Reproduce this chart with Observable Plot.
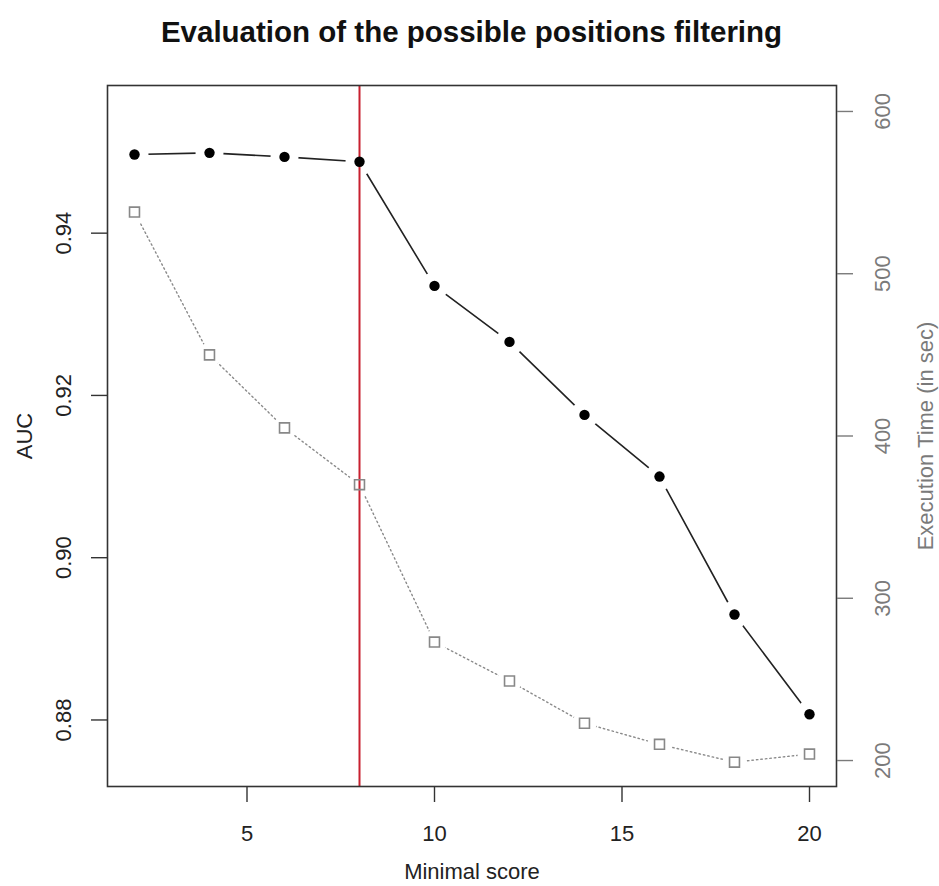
<!DOCTYPE html>
<html>
<head>
<meta charset="utf-8">
<script src="https://cdn.jsdelivr.net/npm/d3@7"></script>
<script src="https://cdn.jsdelivr.net/npm/@observablehq/plot@0.6"></script>
<style>
  html, body { margin: 0; padding: 0; background: #fff; }
  #wrap { width: 939px; height: 886px; position: relative; font-family: "Liberation Sans", Arial, Helvetica, sans-serif; }
  #title { height: 60px; box-sizing: border-box; padding-top: 17px; text-align: center; font-weight: bold; font-size: 29.5px; line-height: 29px; color: #111; padding-left: 4px; white-space: nowrap; }
</style>
</head>
<body>
<div id="wrap">
  <div id="title">Evaluation of the possible positions filtering</div>
  <div id="chart"></div>
</div>
<script>
// ---- data ----
const minimalScore = [2, 4, 6, 8, 10, 12, 14, 16, 18, 20];
const auc = [0.9497, 0.9499, 0.9494, 0.9488, 0.9335, 0.9266, 0.9176, 0.9100, 0.8930, 0.8807];
const execTime = [538, 450, 405, 370, 273, 249, 223, 210, 199, 204];
const xTicks = [5, 10, 15, 20];
const aucTicks = [0.88, 0.90, 0.92, 0.94];
const timeTicks = [200, 300, 400, 500, 600];
const threshold = [8];

// ---- scales ----
const xDomain = [1.28, 20.72];
const aucDomain = [0.8718, 0.9582];
const timeDomain = [184, 616];
const toLeft = t => aucDomain[0] + (t - timeDomain[0]) * (aucDomain[1] - aucDomain[0]) / (timeDomain[1] - timeDomain[0]);

const rows = minimalScore.map((s, i) => ({score: s, auc: auc[i], time: execTime[i]}));

const gray = "#7a7a7a";
const fs = 22;

const chart = Plot.plot({
  width: 939,
  height: 826,
  marginTop: 25,
  marginBottom: 100,
  marginLeft: 107,
  marginRight: 103,
  style: {fontFamily: '"Liberation Sans", Arial, Helvetica, sans-serif', background: "#fff", overflow: "visible"},
  x: {domain: xDomain, axis: null},
  y: {domain: aucDomain, axis: null},
  marks: [
    // execution time (right axis), dotted gray
    Plot.line(rows, {x: "score", y: d => toLeft(d.time), stroke: "#8a8a8a", strokeWidth: 1.4, strokeDasharray: "1.5,3"}),
    // AUC solid line
    Plot.line(rows, {x: "score", y: "auc", stroke: "#222", strokeWidth: 1.6}),
    // gaps (type = "b")
    Plot.dot(rows, {x: "score", y: d => toLeft(d.time), r: 12, fill: "white"}),
    Plot.dot(rows, {x: "score", y: "auc", r: 14, fill: "white"}),
    // threshold line
    Plot.ruleX(threshold, {stroke: "#c8202f", strokeWidth: 2}),
    // points
    Plot.dot(rows, {x: "score", y: d => toLeft(d.time), symbol: "square", r: 5.6, stroke: "#888", strokeWidth: 1.6, fill: "none"}),
    Plot.dot(rows, {x: "score", y: "auc", r: 5.2, fill: "#000"}),
    // frame
    Plot.frame({stroke: "#333", strokeWidth: 1.6}),
    // axes ticks
    Plot.axisX({ticks: xTicks, tickSize: 16, stroke: "#333", strokeWidth: 1.4, tickFormat: () => "", label: null}),
    Plot.axisY({anchor: "left", ticks: aucTicks, tickSize: 16, stroke: "#333", strokeWidth: 1.4, tickFormat: () => "", label: null}),
    Plot.axisY({anchor: "right", ticks: timeTicks.map(toLeft), tickSize: 16, stroke: gray, strokeWidth: 1.4, tickFormat: () => "", label: null}),
    // tick labels
    Plot.text(xTicks, {x: d => d, frameAnchor: "bottom", dy: 47, text: d => String(d), fontSize: fs, fill: "#222", lineAnchor: "middle"}),
    Plot.text(aucTicks, {y: d => d, frameAnchor: "left", dx: -43.5, rotate: -90, text: d => d.toFixed(2), fontSize: fs, fill: "#222", lineAnchor: "middle", textAnchor: "middle"}),
    Plot.text(timeTicks, {y: d => toLeft(d), frameAnchor: "right", dx: 46.5, rotate: -90, text: d => String(d), fontSize: fs, fill: gray, lineAnchor: "middle", textAnchor: "middle"}),
    // axis titles
    Plot.text(["Minimal score"], {frameAnchor: "bottom", dy: 85, text: d => d, fontSize: fs, fill: "#222", lineAnchor: "middle", textAnchor: "middle"}),
    Plot.text(["AUC"], {frameAnchor: "left", dx: -83, rotate: -90, text: d => d, fontSize: fs, fill: "#222", lineAnchor: "middle", textAnchor: "middle"}),
    Plot.text(["Execution Time (in sec)"], {frameAnchor: "right", dx: 89, rotate: -90, text: d => d, fontSize: fs, fill: gray, lineAnchor: "middle", textAnchor: "middle"})
  ]
});
document.getElementById("chart").appendChild(chart);
</script>
</body>
</html>
